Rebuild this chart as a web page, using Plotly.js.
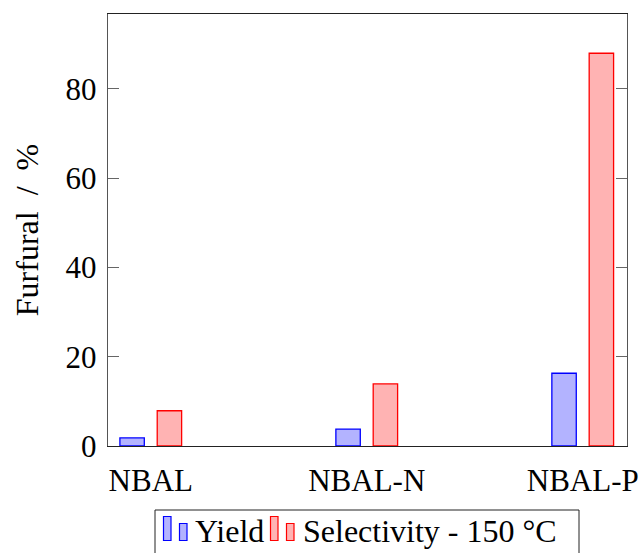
<!DOCTYPE html>
<html>
<head>
<meta charset="utf-8">
<script src="https://cdn.plot.ly/plotly-3.0.1.min.js"></script>
<style>
  html, body { margin: 0; padding: 0; background: #fff; }
  #chart { width: 644px; height: 553px; }
</style>
</head>
<body>
<div id="chart"></div>
<script>
// Catalysts and furfural results at 150 °C
const catalysts = ["NBAL", "NBAL-N", "NBAL-P"];
const seriesNames = ["Yield", "Selectivity - 150 °C"];
const yieldValues = [1.8, 3.8, 16.3];
const selectivityValues = [7.9, 13.9, 88.0];
const yTickValues = [0, 20, 40, 60, 80];

const FONT = "Liberation Serif, Times New Roman, serif";
const FS = 31;
const barWidth = 0.113;

const styles = [
  { fill: "#b3b3ff", line: "#0000ff" },
  { fill: "#ffb3b3", line: "#ff0000" }
];

const traces = [
  {
    type: "bar",
    name: seriesNames[0],
    x: catalysts,
    y: yieldValues,
    width: barWidth,
    offset: -0.0864 - barWidth / 2,
    marker: { color: styles[0].fill, line: { color: styles[0].line, width: 1.3 } }
  },
  {
    type: "bar",
    name: seriesNames[1],
    x: catalysts,
    y: selectivityValues,
    width: barWidth,
    offset: 0.0864 - barWidth / 2,
    marker: { color: styles[1].fill, line: { color: styles[1].line, width: 1.3 } }
  }
];

// Plot-area geometry (px) used to place the legend box below the axes
const plotLeft = 108, plotWidth = 519, plotBottom = 446, plotHeight = 432;
const px = v => (v - plotLeft) / plotWidth;
const py = v => (plotBottom - v) / plotHeight;

// Legend drawn as a boxed row with pgfplots-style double-bar glyphs
const legendShapes = [
  { type: "rect", xref: "paper", yref: "paper", x0: px(155), x1: px(579), y0: py(575), y1: py(510),
    line: { color: "#222", width: 1 }, fillcolor: "rgba(0,0,0,0)", layer: "above" }
];
const glyphLeft = [163.5, 270.5];
styles.forEach((s, i) => {
  const g = glyphLeft[i];
  legendShapes.push(
    { type: "rect", xref: "paper", yref: "paper", x0: px(g), x1: px(g + 7.5), y0: py(540.5), y1: py(516.5),
      line: { color: s.line, width: 1.2 }, fillcolor: s.fill, layer: "above" },
    { type: "rect", xref: "paper", yref: "paper", x0: px(g + 16), x1: px(g + 23.5), y0: py(540.5), y1: py(523.5),
      line: { color: s.line, width: 1.2 }, fillcolor: s.fill, layer: "above" }
  );
});
const legendText = [
  { text: seriesNames[0], x: px(193) },
  { text: seriesNames[1], x: px(301) }
].map(t => ({
  xref: "paper", yref: "paper", x: t.x, y: py(531), xanchor: "left", yanchor: "middle",
  text: t.text, showarrow: false, font: { family: FONT, size: 32, color: "#000" }
}));

const layout = {
  width: 644,
  height: 553,
  margin: { l: 108, r: 17, t: 14, b: 107, pad: 0, autoexpand: false },
  paper_bgcolor: "#fff",
  plot_bgcolor: "#fff",
  font: { family: FONT, size: FS, color: "#000" },
  showlegend: false,
  barmode: "overlay",
  xaxis: {
    type: "category",
    range: [-0.198, 2.205],
    showgrid: false,
    zeroline: false,
    showline: true,
    mirror: true,
    linecolor: "#222",
    linewidth: 1.3,
    ticks: "",
    ticklabelstandoff: 6,
    tickfont: { family: FONT, size: FS, color: "#000" }
  },
  yaxis: {
    range: [0, 96.8],
    tickvals: yTickValues,
    ticktext: yTickValues.map(String),
    showgrid: false,
    zeroline: false,
    showline: true,
    mirror: "ticks",
    linecolor: "#555",
    linewidth: 1.3,
    ticks: "inside",
    ticklen: 11,
    tickwidth: 1,
    tickcolor: "#666",
    ticklabelstandoff: 4,
    tickfont: { family: FONT, size: FS, color: "#000" },
    title: { text: "Furfural\u00a0\u00a0/\u00a0\u00a0%", font: { family: FONT, size: 32, color: "#000" }, standoff: 17 }
  },
  shapes: legendShapes,
  annotations: legendText
};

Plotly.newPlot("chart", traces, layout, { displayModeBar: false, staticPlot: true });
</script>
</body>
</html>
